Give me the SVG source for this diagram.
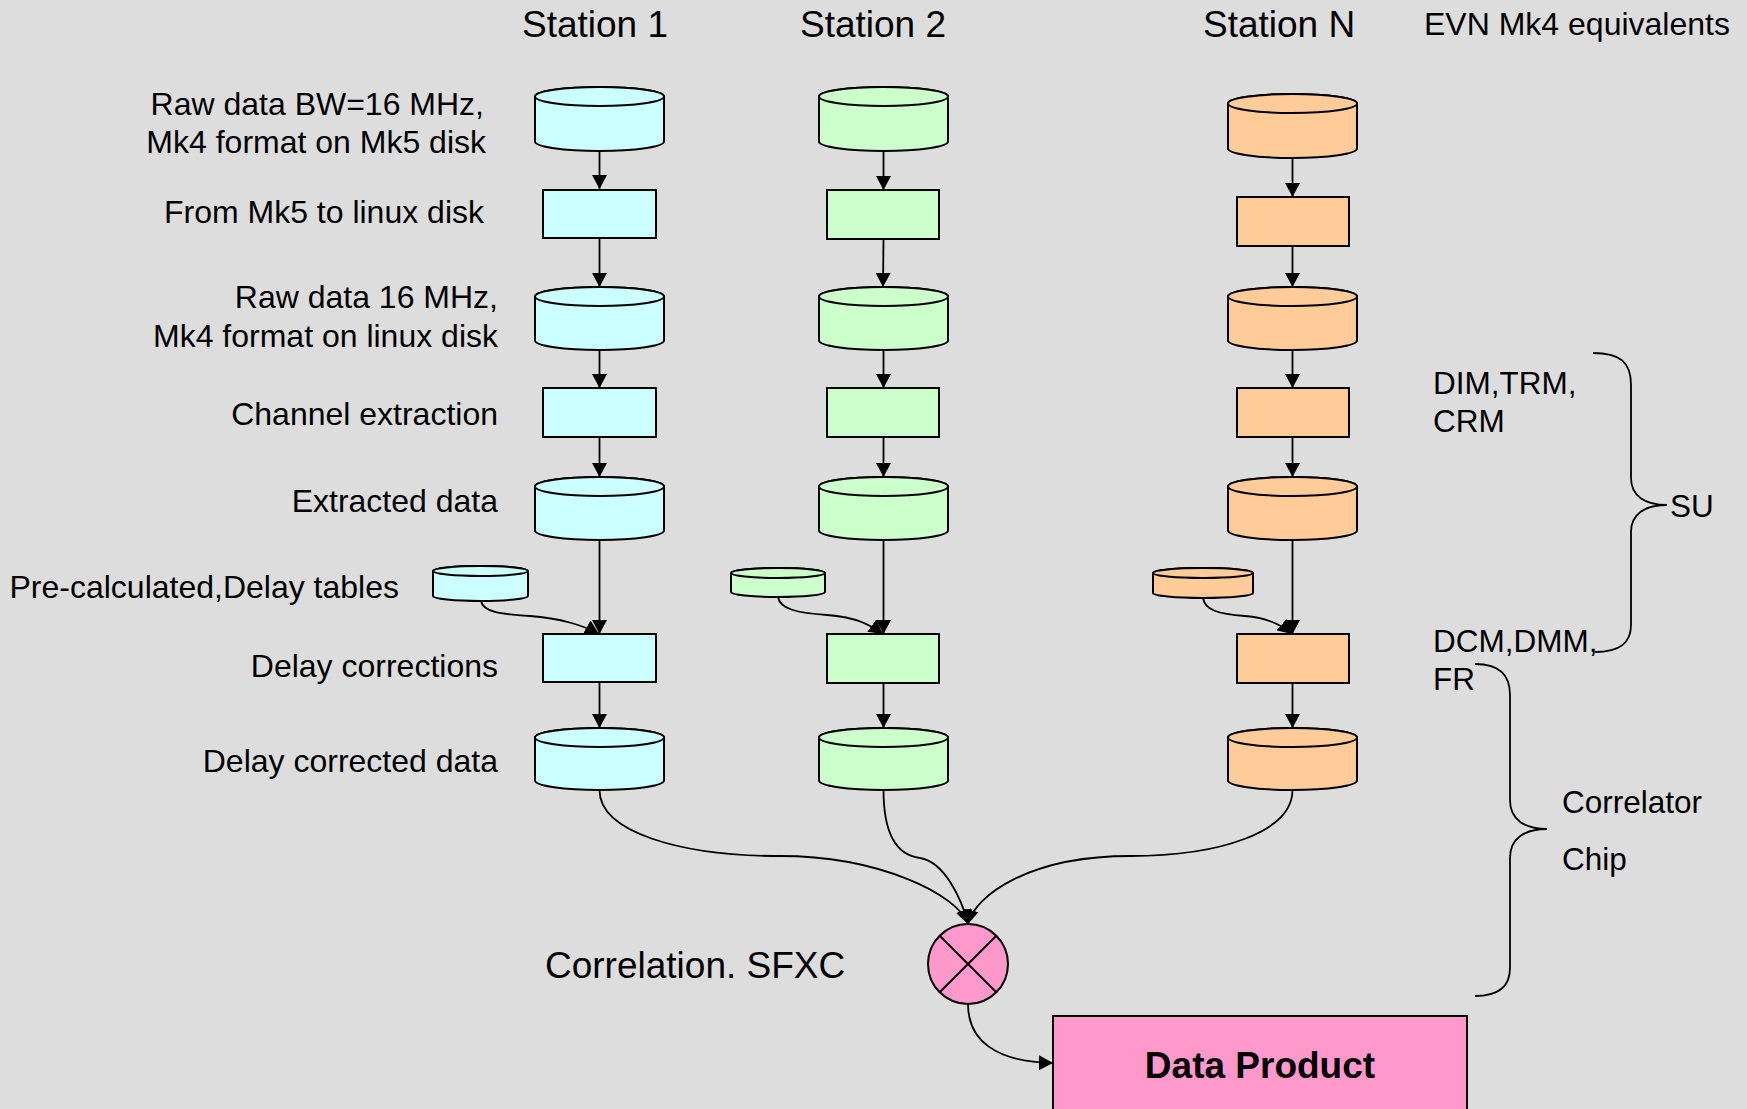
<svg xmlns="http://www.w3.org/2000/svg" width="1747" height="1109" viewBox="0 0 1747 1109">
  <style>
    text { font-family: "Liberation Sans", Arial, sans-serif; fill: #000; }
    .hdr { font-size: 37px; }
    .evn { font-size: 32px; }
    .lbl { font-size: 32px; text-anchor: end; }
    .side { font-size: 31.5px; }
    .shape { stroke: #000; stroke-width: 2; }
    .s1 { fill: #CCFFFF; }
    .s2 { fill: #CCFFCC; }
    .sn { fill: #FFCC99; }
    .pink { fill: #FF99CC; }
    .conn { fill: none; stroke: #000; stroke-width: 1.8; }
    .brace { fill: none; stroke: #000; stroke-width: 1.8; }
  </style>
  <defs>
    <marker id="arrow" markerUnits="userSpaceOnUse" viewBox="0 0 14 15" refX="14" refY="7.5" markerWidth="14" markerHeight="15" orient="auto">
      <path d="M0,0 L14,7.5 L0,15 Z" fill="#000"/>
    </marker>
  </defs>

  <rect x="0" y="0" width="1747" height="1109" fill="#DDDDDD"/>

  <!-- column headers -->
  <g id="headers">
    <text class="hdr" x="522" y="37">Station 1</text>
    <text class="hdr" x="800" y="37">Station 2</text>
    <text class="hdr" x="1203" y="37">Station N</text>
    <text class="evn" x="1424" y="35">EVN Mk4 equivalents</text>
  </g>

  <!-- row labels -->
  <g id="row-labels">
    <text class="lbl" x="484" y="115">Raw data BW=16 MHz,</text>
    <text class="lbl" x="486" y="153">Mk4 format on Mk5 disk</text>
    <text class="lbl" x="484" y="223">From Mk5 to linux disk</text>
    <text class="lbl" x="498" y="308">Raw data 16 MHz,</text>
    <text class="lbl" x="498" y="347">Mk4 format on linux disk</text>
    <text class="lbl" x="498" y="425">Channel extraction</text>
    <text class="lbl" x="498" y="512">Extracted data</text>
    <text class="lbl" x="399" y="598">Pre-calculated,Delay tables</text>
    <text class="lbl" x="498" y="677">Delay corrections</text>
    <text class="lbl" x="498" y="772">Delay corrected data</text>
  </g>

  <!-- connectors -->
  <g id="connectors">
    <!-- station 1 -->
    <path class="conn" d="M599.5,151 L599.5,189" marker-end="url(#arrow)"/>
    <path class="conn" d="M599.5,238 L599.5,287" marker-end="url(#arrow)"/>
    <path class="conn" d="M599.5,350 L599.5,388" marker-end="url(#arrow)"/>
    <path class="conn" d="M599.5,437 L599.5,477" marker-end="url(#arrow)"/>
    <path class="conn" d="M599.5,540 L599.5,634" marker-end="url(#arrow)"/>
    <path class="conn" d="M481,601 C483,612 500,614 530,616 C560,618 585,626 599,634" marker-end="url(#arrow)"/>
    <path class="conn" d="M599.5,682 L599.5,728" marker-end="url(#arrow)"/>
    <!-- station 2 -->
    <path class="conn" d="M883.5,151 L883.5,190" marker-end="url(#arrow)"/>
    <path class="conn" d="M883.5,239 L883,287" marker-end="url(#arrow)"/>
    <path class="conn" d="M883.5,350 L883.5,388" marker-end="url(#arrow)"/>
    <path class="conn" d="M883.5,437 L883.5,477" marker-end="url(#arrow)"/>
    <path class="conn" d="M883.5,540 L883.5,634" marker-end="url(#arrow)"/>
    <path class="conn" d="M778,597 C780,609 797,613 827,615 C857,617 872,626 883,634" marker-end="url(#arrow)"/>
    <path class="conn" d="M883.5,683 L883.5,728" marker-end="url(#arrow)"/>
    <!-- station N -->
    <path class="conn" d="M1292.5,158 L1292.5,197" marker-end="url(#arrow)"/>
    <path class="conn" d="M1292.5,246 L1292.5,287" marker-end="url(#arrow)"/>
    <path class="conn" d="M1292.5,350 L1292.5,388" marker-end="url(#arrow)"/>
    <path class="conn" d="M1292.5,437 L1292.5,477" marker-end="url(#arrow)"/>
    <path class="conn" d="M1292.5,540 L1292.5,634" marker-end="url(#arrow)"/>
    <path class="conn" d="M1203,598 C1205,610 1218,614 1245,616 C1270,618 1283,626 1292,634" marker-end="url(#arrow)"/>
    <path class="conn" d="M1292.5,683 L1292.5,728" marker-end="url(#arrow)"/>
    <!-- into the correlator -->
    <path class="conn" d="M599.5,790 C599.5,832 680,856 780,856 C880,856 958,895 968,924" marker-end="url(#arrow)"/>
    <path class="conn" d="M883.5,790 C883.5,830 895,855 920,858 C945,862 962,900 968,924" marker-end="url(#arrow)"/>
    <path class="conn" d="M1292.5,790 C1292.5,832 1220,856 1130,856 C1030,856 975,895 968,924" marker-end="url(#arrow)"/>
    <!-- correlator to data product -->
    <path class="conn" d="M968,1004 C968,1040 995,1062 1053,1063" marker-end="url(#arrow)"/>
  </g>

  <!-- station 1 nodes -->
  <g id="s1-raw-mk5">
    <path class="shape s1" d="M535,96.5 L535,141.5 A64.5,9.5 0 0 0 664,141.5 L664,96.5 A64.5,9.5 0 0 0 535,96.5 Z"/>
    <ellipse class="shape s1" cx="599.5" cy="96.5" rx="64.5" ry="9.5"/>
  </g>
  <g id="s1-copy">
    <rect class="shape s1" x="543" y="190" width="113" height="48"/>
  </g>
  <g id="s1-raw-linux">
    <path class="shape s1" d="M535,296.5 L535,340.5 A64.5,9.5 0 0 0 664,340.5 L664,296.5 A64.5,9.5 0 0 0 535,296.5 Z"/>
    <ellipse class="shape s1" cx="599.5" cy="296.5" rx="64.5" ry="9.5"/>
  </g>
  <g id="s1-extract">
    <rect class="shape s1" x="543" y="388" width="113" height="49"/>
  </g>
  <g id="s1-extracted">
    <path class="shape s1" d="M535,486.5 L535,530.5 A64.5,9.5 0 0 0 664,530.5 L664,486.5 A64.5,9.5 0 0 0 535,486.5 Z"/>
    <ellipse class="shape s1" cx="599.5" cy="486.5" rx="64.5" ry="9.5"/>
  </g>
  <g id="s1-delay-table">
    <path class="shape s1" d="M433,571 L433,596 A47.5,5 0 0 0 528,596 L528,571 A47.5,5 0 0 0 433,571 Z"/>
    <ellipse class="shape s1" cx="480.5" cy="571" rx="47.5" ry="5"/>
  </g>
  <g id="s1-delay">
    <rect class="shape s1" x="543" y="634" width="113" height="48"/>
  </g>
  <g id="s1-corrected">
    <path class="shape s1" d="M535,737.5 L535,780.5 A64.5,9.5 0 0 0 664,780.5 L664,737.5 A64.5,9.5 0 0 0 535,737.5 Z"/>
    <ellipse class="shape s1" cx="599.5" cy="737.5" rx="64.5" ry="9.5"/>
  </g>

  <!-- station 2 nodes -->
  <g id="s2-raw-mk5">
    <path class="shape s2" d="M819,96.5 L819,141.5 A64.5,9.5 0 0 0 948,141.5 L948,96.5 A64.5,9.5 0 0 0 819,96.5 Z"/>
    <ellipse class="shape s2" cx="883.5" cy="96.5" rx="64.5" ry="9.5"/>
  </g>
  <g id="s2-copy">
    <rect class="shape s2" x="827" y="190" width="112" height="49"/>
  </g>
  <g id="s2-raw-linux">
    <path class="shape s2" d="M819,296.5 L819,340.5 A64.5,9.5 0 0 0 948,340.5 L948,296.5 A64.5,9.5 0 0 0 819,296.5 Z"/>
    <ellipse class="shape s2" cx="883.5" cy="296.5" rx="64.5" ry="9.5"/>
  </g>
  <g id="s2-extract">
    <rect class="shape s2" x="827" y="388" width="112" height="49"/>
  </g>
  <g id="s2-extracted">
    <path class="shape s2" d="M819,486.5 L819,530.5 A64.5,9.5 0 0 0 948,530.5 L948,486.5 A64.5,9.5 0 0 0 819,486.5 Z"/>
    <ellipse class="shape s2" cx="883.5" cy="486.5" rx="64.5" ry="9.5"/>
  </g>
  <g id="s2-delay-table">
    <path class="shape s2" d="M731,573 L731,592 A47,5 0 0 0 825,592 L825,573 A47,5 0 0 0 731,573 Z"/>
    <ellipse class="shape s2" cx="778" cy="573" rx="47" ry="5"/>
  </g>
  <g id="s2-delay">
    <rect class="shape s2" x="827" y="634" width="112" height="49"/>
  </g>
  <g id="s2-corrected">
    <path class="shape s2" d="M819,737.5 L819,780.5 A64.5,9.5 0 0 0 948,780.5 L948,737.5 A64.5,9.5 0 0 0 819,737.5 Z"/>
    <ellipse class="shape s2" cx="883.5" cy="737.5" rx="64.5" ry="9.5"/>
  </g>

  <!-- station N nodes -->
  <g id="sn-raw-mk5">
    <path class="shape sn" d="M1228,103.5 L1228,148.5 A64.5,9.5 0 0 0 1357,148.5 L1357,103.5 A64.5,9.5 0 0 0 1228,103.5 Z"/>
    <ellipse class="shape sn" cx="1292.5" cy="103.5" rx="64.5" ry="9.5"/>
  </g>
  <g id="sn-copy">
    <rect class="shape sn" x="1237" y="197" width="112" height="49"/>
  </g>
  <g id="sn-raw-linux">
    <path class="shape sn" d="M1228,296.5 L1228,340.5 A64.5,9.5 0 0 0 1357,340.5 L1357,296.5 A64.5,9.5 0 0 0 1228,296.5 Z"/>
    <ellipse class="shape sn" cx="1292.5" cy="296.5" rx="64.5" ry="9.5"/>
  </g>
  <g id="sn-extract">
    <rect class="shape sn" x="1237" y="388" width="112" height="49"/>
  </g>
  <g id="sn-extracted">
    <path class="shape sn" d="M1228,486.5 L1228,530.5 A64.5,9.5 0 0 0 1357,530.5 L1357,486.5 A64.5,9.5 0 0 0 1228,486.5 Z"/>
    <ellipse class="shape sn" cx="1292.5" cy="486.5" rx="64.5" ry="9.5"/>
  </g>
  <g id="sn-delay-table">
    <path class="shape sn" d="M1153,573 L1153,593 A50,5 0 0 0 1253,593 L1253,573 A50,5 0 0 0 1153,573 Z"/>
    <ellipse class="shape sn" cx="1203" cy="573" rx="50" ry="5"/>
  </g>
  <g id="sn-delay">
    <rect class="shape sn" x="1237" y="634" width="112" height="49"/>
  </g>
  <g id="sn-corrected">
    <path class="shape sn" d="M1228,737.5 L1228,780.5 A64.5,9.5 0 0 0 1357,780.5 L1357,737.5 A64.5,9.5 0 0 0 1228,737.5 Z"/>
    <ellipse class="shape sn" cx="1292.5" cy="737.5" rx="64.5" ry="9.5"/>
  </g>

  <!-- correlation stage -->
  <g id="correlator">
    <circle class="shape pink" cx="968" cy="964" r="40"/>
    <path d="M939.7,935.7 L996.3,992.3 M996.3,935.7 L939.7,992.3" stroke="#000" stroke-width="2" fill="none"/>
    <text class="hdr" x="545" y="978">Correlation. SFXC</text>
  </g>

  <g id="data-product">
    <rect class="shape pink" x="1053" y="1016" width="414" height="110"/>
    <text x="1260" y="1078" font-size="37" font-weight="bold" text-anchor="middle">Data Product</text>
  </g>

  <!-- Mk4 equivalents with braces -->
  <g id="mk4-su">
    <text class="side" x="1433" y="394">DIM,TRM,</text>
    <text class="side" x="1433" y="432">CRM</text>
    <text class="side" x="1433" y="652">DCM,DMM,</text>
    <path class="brace" d="M1593,353 C1620,353 1631,362 1631,385 L1631,478 C1631,496 1645,505 1667,505 C1645,505 1631,514 1631,532 L1631,625 C1631,643 1620,652 1595,652"/>
    <text class="side" x="1670" y="517">SU</text>
  </g>
  <g id="mk4-chip">
    <text class="side" x="1433" y="690">FR</text>
    <path class="brace" d="M1475,664 C1500,664 1510,675 1510,695 L1510,800 C1510,820 1525,829 1547,829 C1525,829 1510,838 1510,858 L1510,968 C1510,985 1500,996 1475,996"/>
    <text class="side" x="1562" y="813">Correlator</text>
    <text class="side" x="1562" y="870">Chip</text>
  </g>
</svg>
